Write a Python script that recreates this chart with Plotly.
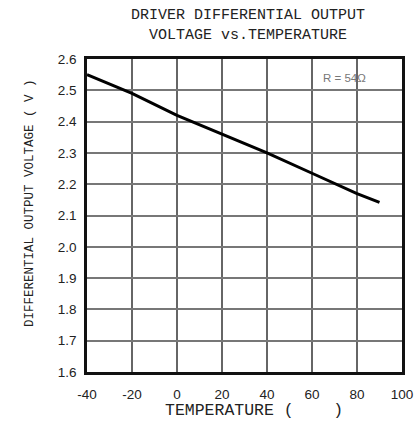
import plotly.graph_objects as go

temperature = [-40, -20, 0, 20, 40, 60, 80, 90]
voltage = [2.55, 2.49, 2.42, 2.36, 2.30, 2.235, 2.17, 2.142]

x_ticks = [-40, -20, 0, 20, 40, 60, 80, 100]
x_tick_text = ["-40", "-20", "0", "20", "40", "60", "80", "100"]
y_ticks = [1.6, 1.7, 1.8, 1.9, 2.0, 2.1, 2.2, 2.3, 2.4, 2.5, 2.6]
y_tick_text = ["1.6", "1.7", "1.8", "1.9", "2.0", "2.1", "2.2", "2.3", "2.4", "2.5", "2.6"]

fig = go.Figure()
fig.add_trace(go.Scatter(x=temperature, y=voltage, mode="lines",
                         line=dict(color="black", width=3), showlegend=False))

fig.add_vline(x=40, line=dict(color="#222", width=2), layer="below")

fig.update_layout(
    width=416, height=426,
    margin=dict(l=87, r=14, t=59, b=54, autoexpand=False),
    paper_bgcolor="white", plot_bgcolor="white",
    font=dict(family="Liberation Sans", color="#222"),
    xaxis=dict(range=[-40, 100], tickvals=x_ticks, ticktext=x_tick_text, ticks="", showgrid=True,
               gridcolor="#666", gridwidth=1.5, zeroline=False, automargin=False,
               showline=True, mirror=True, linecolor="#111", linewidth=2.5,
               tickfont=dict(size=13.5, color="#222"), ticklabelstandoff=8),
    yaxis=dict(range=[1.6, 2.6], tickvals=y_ticks, ticktext=y_tick_text, ticks="",
               showgrid=True, gridcolor="#777", gridwidth=2, zeroline=False, automargin=False,
               showline=True, mirror=True, linecolor="#111", linewidth=2.5,
               tickfont=dict(size=13.5, color="#222"), ticklabelstandoff=5),
)

fig.add_annotation(text="TEMPERATURE (    )",
                   xref="paper", yref="paper", x=(254 - 87) / 315, y=-(410 - 372) / 313,
                   xanchor="center", yanchor="middle", showarrow=False,
                   font=dict(family="Liberation Mono", size=16.5, color="#222"))

fig.add_annotation(text="DIFFERENTIAL OUTPUT VOLTAGE ( V )", textangle=-90,
                   xref="paper", yref="paper", x=(30 - 87) / 315, y=(372 - 203) / 313,
                   xanchor="center", yanchor="middle", showarrow=False,
                   font=dict(family="Liberation Mono", size=12.5, color="#222"))

fig.add_annotation(text="DRIVER DIFFERENTIAL OUTPUT<br>VOLTAGE vs.TEMPERATURE",
                   xref="paper", yref="paper", x=(248 - 87) / 315, y=1 + 54 / 313,
                   xanchor="center", yanchor="top", showarrow=False,
                   font=dict(family="Liberation Mono", size=15, color="#222"))

fig.add_annotation(text="R = 54Ω", x=(368 - 87) / 315, y=0.94, xref="paper", yref="paper",
                   xanchor="right", yanchor="middle",
                   showarrow=False, font=dict(family="Liberation Sans", size=11.5, color="#777"))

fig.write_html("out.html", config={"displayModeBar": False},
               post_script="document.body.style.margin='0';document.body.style.overflow='hidden';")
